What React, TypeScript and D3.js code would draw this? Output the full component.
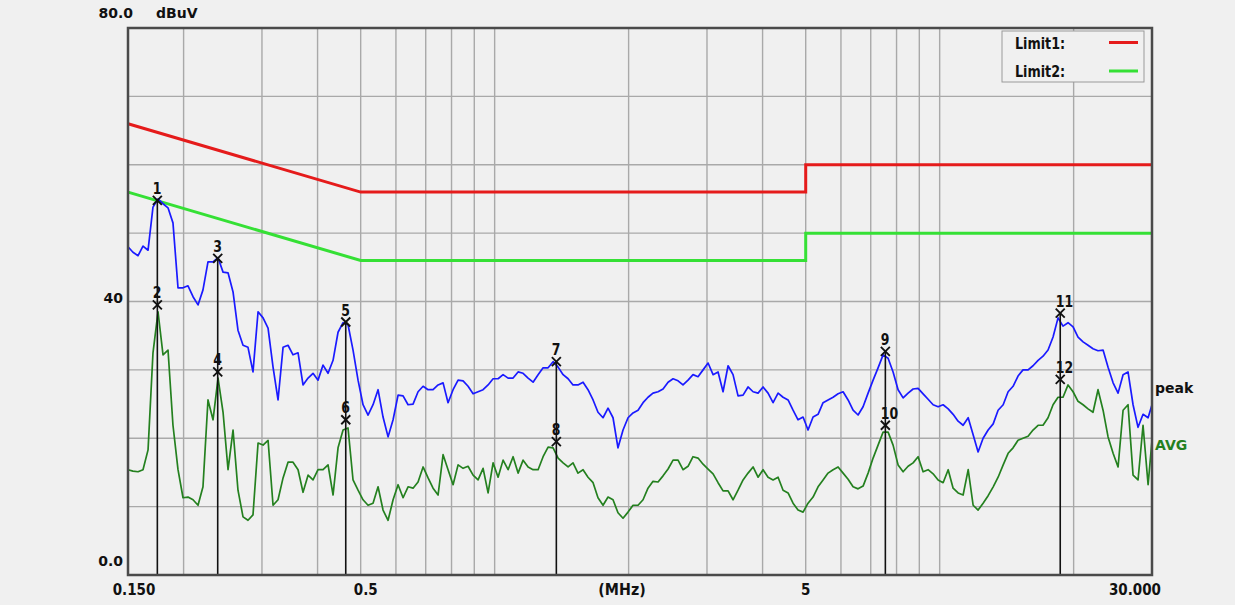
import React from 'react';
import * as d3 from 'd3';

// Sweep frequencies (MHz)
const freqs = [
  0.1500, 0.1539, 0.1580, 0.1621, 0.1664, 0.1707, 0.1752, 0.1798, 0.1845, 0.1893,
  0.1943, 0.1994, 0.2046, 0.2100, 0.2155, 0.2211, 0.2269, 0.2329, 0.2390, 0.2453,
  0.2517, 0.2583, 0.2650, 0.2720, 0.2791, 0.2864, 0.2940, 0.3017, 0.3096, 0.3177,
  0.3260, 0.3346, 0.3433, 0.3523, 0.3616, 0.3710, 0.3808, 0.3907, 0.4010, 0.4115,
  0.4223, 0.4334, 0.4447, 0.4564, 0.4683, 0.4806, 0.4932, 0.5061, 0.5194, 0.5330,
  0.5470, 0.5613, 0.5761, 0.5912, 0.6067, 0.6226, 0.6389, 0.6556, 0.6728, 0.6905,
  0.7086, 0.7271, 0.7462, 0.7658, 0.7858, 0.8064, 0.8276, 0.8493, 0.8715, 0.8944,
  0.9178, 0.9419, 0.9666, 0.9919, 1.0179, 1.0446, 1.0720, 1.1001, 1.1289, 1.1585,
  1.1889, 1.2200, 1.2520, 1.2848, 1.3185, 1.3531, 1.3886, 1.4250, 1.4623, 1.500,
  1.539, 1.580, 1.621, 1.664, 1.707, 1.752, 1.798, 1.845, 1.893, 1.943,
  1.994, 2.046, 2.100, 2.155, 2.211, 2.269, 2.329, 2.390, 2.453, 2.517,
  2.583, 2.650, 2.720, 2.791, 2.864, 2.940, 3.017, 3.096, 3.177, 3.260,
  3.346, 3.433, 3.523, 3.616, 3.710, 3.808, 3.907, 4.010, 4.115, 4.223,
  4.334, 4.447, 4.564, 4.683, 4.806, 4.932, 5.061, 5.194, 5.330, 5.470,
  5.613, 5.761, 5.912, 6.067, 6.226, 6.389, 6.556, 6.728, 6.905, 7.086,
  7.271, 7.462, 7.658, 7.858, 8.064, 8.276, 8.493, 8.715, 8.944, 9.178,
  9.419, 9.666, 9.919, 10.18, 10.45, 10.72, 11.00, 11.29, 11.59, 11.89,
  12.20, 12.52, 12.85, 13.19, 13.53, 13.89, 14.25, 14.62, 15.00, 15.39,
  15.80, 16.21, 16.64, 17.07, 17.52, 17.98, 18.45, 18.93, 19.43, 19.94,
  20.46, 21.00, 21.55, 22.11, 22.69, 23.29, 23.90, 24.53, 25.17, 25.83,
  26.50, 27.20, 27.91, 28.64, 29.40, 30.00,
];

// Peak detector trace (dBuV)
const peak = [
  48.0, 47.2, 46.7, 48.1, 47.5, 53.8, 55.0, 54.3, 53.7, 51.5,
  42.0, 42.0, 42.3, 40.7, 39.5, 41.7, 45.8, 45.8, 46.4, 44.3,
  44.2, 41.4, 35.8, 33.6, 33.3, 29.7, 38.5, 37.6, 36.1, 30.4,
  25.6, 33.3, 33.6, 32.2, 32.5, 27.8, 28.8, 29.5, 28.5, 30.7,
  29.5, 31.4, 35.5, 36.9, 36.6, 32.9, 28.5, 24.9, 23.4, 24.9,
  27.1, 23.1, 20.2, 22.7, 26.3, 26.2, 24.9, 25.0, 26.8, 27.6,
  27.1, 27.1, 27.8, 28.1, 25.2, 27.1, 28.5, 28.4, 27.6, 26.5,
  26.8, 27.1, 27.8, 28.7, 28.7, 29.3, 28.8, 28.8, 29.7, 29.5,
  28.8, 28.2, 29.3, 30.3, 30.3, 31.2, 30.4, 29.3, 28.7, 27.8,
  27.8, 28.2, 27.1, 25.6, 23.8, 23.0, 24.4, 23.0, 18.6, 21.2,
  23.0, 23.7, 24.1, 25.2, 26.0, 26.6, 26.8, 27.2, 28.2, 28.7,
  28.4, 27.8, 28.5, 29.3, 29.0, 30.0, 31.0, 29.3, 29.7, 26.8,
  30.6, 29.3, 26.2, 26.3, 27.5, 26.8, 26.6, 27.5, 26.6, 25.2,
  26.6, 26.0, 25.6, 24.1, 22.7, 23.1, 21.2, 23.1, 23.5, 25.2,
  25.6, 26.0, 26.5, 26.8, 25.6, 24.1, 23.4, 24.6, 26.6, 28.5,
  30.3, 32.2, 31.7, 29.7, 27.1, 25.9, 26.6, 27.2, 27.3, 26.5,
  25.7, 24.9, 24.6, 24.9, 24.3, 23.5, 22.5, 21.9, 23.0, 20.5,
  18.0, 20.0, 21.2, 22.1, 24.1, 24.9, 26.8, 27.6, 29.1, 30.0,
  30.0, 30.6, 31.4, 32.0, 32.9, 34.8, 37.6, 36.4, 36.9, 36.3,
  34.8, 34.1, 33.6, 33.1, 32.8, 32.9, 30.4, 28.1, 26.6, 29.3,
  29.7, 24.9, 21.6, 23.5, 23.0, 24.9,
];

// Average detector trace (dBuV)
const avg = [
  15.4, 15.2, 15.1, 15.4, 18.3, 32.5, 38.5, 32.2, 32.9, 21.9,
  15.4, 11.3, 11.4, 11.0, 10.2, 12.9, 25.6, 22.7, 28.8, 23.8,
  15.4, 21.2, 12.4, 8.5, 8.0, 8.8, 19.3, 19.0, 19.7, 10.2,
  11.0, 14.2, 16.5, 16.5, 15.4, 12.1, 14.6, 13.9, 15.4, 15.4,
  16.1, 11.7, 18.6, 21.2, 21.5, 13.9, 12.4, 11.0, 10.2, 10.5,
  12.9, 9.5, 8.0, 11.0, 13.2, 11.3, 12.9, 12.7, 13.6, 15.8,
  14.2, 12.7, 11.7, 17.6, 15.4, 13.2, 16.1, 15.6, 15.9, 14.6,
  13.9, 15.6, 12.0, 16.4, 14.3, 16.8, 15.4, 17.3, 14.9, 16.8,
  15.8, 15.4, 15.4, 17.3, 18.7, 18.6, 17.1, 16.4, 15.8, 16.4,
  14.9, 15.4, 14.3, 13.5, 11.3, 10.2, 11.4, 11.0, 9.1, 8.3,
  9.2, 10.2, 10.2, 11.0, 12.7, 13.7, 13.6, 14.5, 15.5, 16.8,
  16.8, 15.4, 15.9, 17.3, 17.1, 16.2, 15.5, 14.8, 13.5, 12.3,
  12.3, 11.0, 12.4, 13.9, 14.9, 15.8, 14.3, 15.4, 14.3, 13.9,
  14.3, 12.4, 12.0, 10.5, 9.5, 9.2, 10.5, 11.4, 12.9, 13.9,
  14.9, 15.4, 15.8, 14.9, 14.0, 12.9, 12.6, 13.0, 14.9, 17.1,
  19.0, 20.9, 20.9, 19.0, 16.1, 15.1, 15.9, 16.4, 17.3, 15.1,
  15.4, 14.8, 13.9, 13.5, 15.4, 12.7, 12.0, 11.7, 15.4, 10.2,
  9.5, 10.5, 11.6, 12.9, 14.3, 16.1, 17.8, 18.6, 19.7, 20.0,
  20.3, 21.2, 21.9, 21.9, 23.0, 24.9, 26.0, 26.0, 27.8, 26.8,
  25.4, 24.9, 24.3, 23.8, 27.1, 24.1, 20.2, 17.8, 15.8, 24.1,
  24.9, 14.6, 13.9, 21.9, 13.2, 19.7,
];

// Limit lines
const limitFreqs = [0.15, 0.5, 5, 5, 30];
const limit1 = [66, 56, 56, 60, 60];
const limit2 = [56, 46, 46, 50, 50];

// Markers
const markerIds = [1, 2, 3, 4, 5, 6, 7, 8, 9, 10, 11, 12];
const markerFreqs = [0.1746, 0.1746, 0.2386, 0.2386, 0.4628, 0.4628, 1.376, 1.376, 7.55, 7.55, 18.66, 18.66];
const markerLevels = [54.8, 39.5, 46.3, 29.7, 37.0, 22.7, 31.2, 19.5, 32.7, 21.9, 38.3, 28.6];

// Grid
const gridFreqs = [0.2, 0.3, 0.4, 0.5, 0.6, 0.7, 0.8, 0.9, 1, 2, 3, 4, 5, 6, 7, 8, 9, 10, 20];
const gridLevels = [10, 20, 30, 40, 50, 60, 70];

const FONT = "'DejaVu Sans', Verdana, sans-serif";

function T(props: { x: number; y: number; size: number; sx?: number; anchor?: string; fill?: string; children: any }) {
  const { x, y, size, sx = 1, anchor = 'start', fill = '#111', children } = props;
  return (
    <text transform={`translate(${x},${y}) scale(${sx},1)`} fontSize={size} textAnchor={anchor} fill={fill}>
      {children}
    </text>
  );
}

export default function App() {
  const W = 1235, H = 605;
  const left = 128, right = 1152, top = 28, bottom = 575;
  const x = d3.scaleLog().domain([0.15, 30]).range([left, right]);
  const y = d3.scaleLinear().domain([0, 80]).range([bottom, top]);

  const traceLine = d3.line<number>()
    .x((_, i) => x(freqs[i]))
    .y((d) => y(d));
  const limitLine = d3.line<number>()
    .x((_, i) => x(limitFreqs[i]))
    .y((d) => y(d));

  const gridColor = '#a9a9a9';

  return (
    <svg width={W} height={H} style={{ position: 'absolute', left: 0, top: 0, display: 'block' }}
      fontFamily={FONT} fontWeight="bold">
      <rect x={0} y={0} width={W} height={H} fill="#f0f0f0" />
      {/* grid */}
      {gridFreqs.map((f) => (
        <line key={'gx' + f} x1={x(f)} x2={x(f)} y1={top} y2={bottom} stroke={gridColor} strokeWidth={1.4} />
      ))}
      {gridLevels.map((v) => (
        <line key={'gy' + v} x1={left} x2={right} y1={y(v)} y2={y(v)} stroke={gridColor} strokeWidth={1.4} />
      ))}

      {/* legend */}
      <rect x={1002} y={31} width={142} height={51} fill="#f0f0f0" stroke="#9a9a9a" strokeWidth={1} />
      <T x={1015} y={49} size={15} sx={0.85}>Limit1:</T>
      <T x={1015} y={77} size={15} sx={0.85}>Limit2:</T>
      <line x1={1109} x2={1138} y1={42.5} y2={42.5} stroke="#e51b1b" strokeWidth={3} />
      <line x1={1109} x2={1138} y1={71} y2={71} stroke="#35e035" strokeWidth={3} />

      {/* limits */}
      <path d={limitLine(limit1) || ''} fill="none" stroke="#e51b1b" strokeWidth={3} />
      <path d={limitLine(limit2) || ''} fill="none" stroke="#35e035" strokeWidth={3} />

      {/* traces */}
      <path d={traceLine(avg) || ''} fill="none" stroke="#24801f" strokeWidth={1.7} strokeLinejoin="round" />
      <path d={traceLine(peak) || ''} fill="none" stroke="#1a1aff" strokeWidth={1.7} strokeLinejoin="round" />

      {/* marker stems */}
      {markerIds.filter((_, i) => i % 2 === 0).map((id, j) => {
        const i = j * 2;
        return (
          <line key={'ms' + id} x1={x(markerFreqs[i])} x2={x(markerFreqs[i])} y1={y(markerLevels[i])} y2={bottom}
            stroke="#111" strokeWidth={1.6} />
        );
      })}
      {/* marker crosses and labels */}
      {markerIds.map((id, i) => {
        const cx = x(markerFreqs[i]);
        const cy = y(markerLevels[i]);
        const s = 4.5;
        return (
          <g key={'m' + id}>
            <line x1={cx - s} x2={cx + s} y1={cy - s} y2={cy + s} stroke="#111" strokeWidth={1.9} />
            <line x1={cx - s} x2={cx + s} y1={cy + s} y2={cy - s} stroke="#111" strokeWidth={1.9} />
            <T x={cx - 4.5} y={cy - 6.5} size={16} sx={0.78}>{id}</T>
          </g>
        );
      })}

      {/* plot border */}
      <rect x={left} y={top} width={right - left} height={bottom - top} fill="none" stroke="#4a4a4a" strokeWidth={2.5} />

      {/* y labels */}
      <T x={133} y={18} size={14} anchor="end">80.0</T>
      <T x={156} y={18} size={14}>dBuV</T>
      <T x={123} y={303} size={14} anchor="end">40</T>
      <T x={123} y={566} size={14} anchor="end">0.0</T>

      {/* x labels */}
      <T x={x(0.15) + 6} y={595} size={15} sx={0.9} anchor="middle">0.150</T>
      <T x={x(0.5) + 5} y={595} size={15} sx={0.9} anchor="middle">0.5</T>
      <T x={622} y={595} size={15} sx={0.95} anchor="middle">(MHz)</T>
      <T x={x(5)} y={595} size={15} sx={0.9} anchor="middle">5</T>
      <T x={x(30) + 9} y={595} size={15} sx={0.9} anchor="end">30.000</T>

      {/* trace names */}
      <T x={1155} y={393} size={14}>peak</T>
      <T x={1155} y={450} size={14} fill="#24801f">AVG</T>
    </svg>
  );
}
